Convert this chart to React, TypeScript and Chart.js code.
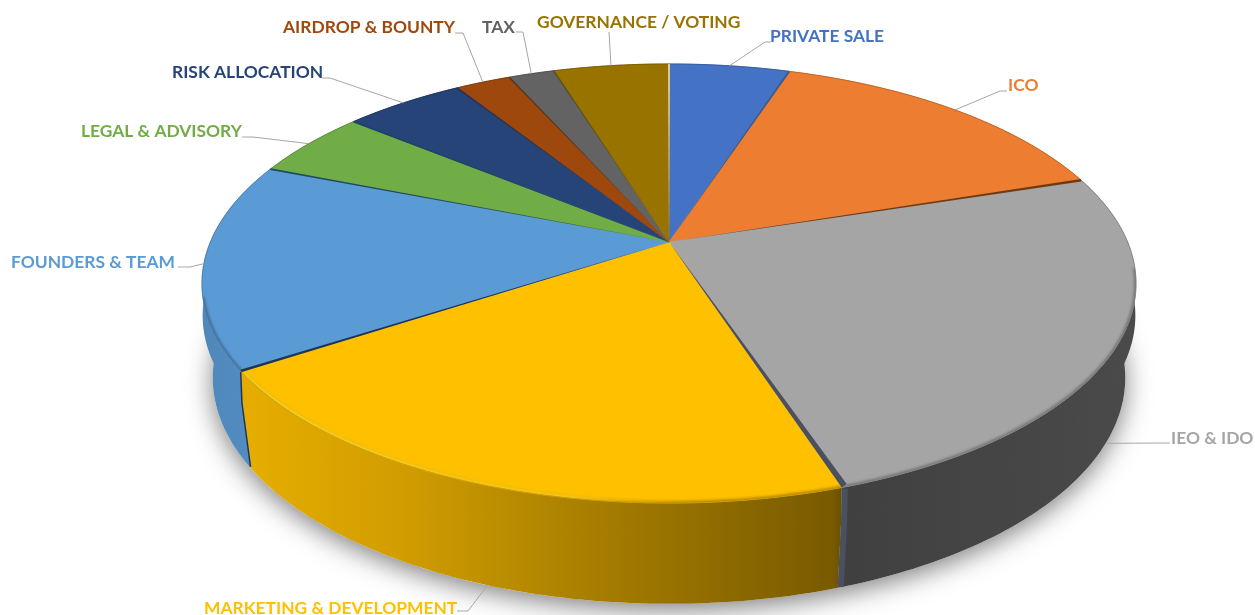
import React, { useEffect, useRef } from "react";
import { Chart, registerables } from "chart.js";

Chart.register(...registerables);

// Token allocation, in percent of supply
const categories = [
  "PRIVATE SALE",
  "ICO",
  "IEO & IDO",
  "MARKETING & DEVELOPMENT",
  "FOUNDERS & TEAM",
  "LEGAL & ADVISORY",
  "RISK ALLOCATION",
  "AIRDROP & BOUNTY",
  "TAX",
  "GOVERNANCE / VOTING",
];
const allocationShares = [5, 15, 25, 20.8, 15.2, 5, 5, 2.3, 1.9, 4.8];
const sliceColors = [
  "#4472c4", "#ed7d31", "#a5a5a5", "#ffc000", "#5b9bd5",
  "#70ad47", "#264478", "#9e480e", "#636363", "#997300",
];
// Colour of the thin seam that closes each slice, and its width at the rim
const seamColors = [
  "#3c5a8c", "#6e3a12", "#4a5060", "#1d3557", "#1e4a6a",
  "#1c4468", "#2c2f52", "#54351c", "#5a5220", "#d9d0a8",
];
const seamWidths = [2, 2.5, 6, 2.5, 2, 2, 1.5, 1.5, 1.5, 2];

// Callout placement per slice: text centre-left, elbow points, and which rim the line lands on
const calloutTextX = [770, 1008, 1171, 204, 11, 81, 172, 283, 482, 537];
const calloutTextY = [36, 85, 438, 608, 262, 131, 72, 27, 27, 22];
const calloutElbows: number[][][] = [
  [[771, 42], [765, 42]],
  [[1007, 91], [1000, 91]],
  [[1170, 443]],
  [[457, 611], [468, 611]],
  [[178, 267], [190, 267]],
  [[242, 137], [253, 137]],
  [[322, 78], [330, 78]],
  [[455, 33], [463, 33]],
  [[516, 32], [523, 32]],
  [[609, 32]],
];
const calloutOnBaseRim = [false, false, true, true, false, false, false, false, false, false];

// Perspective disc: the hub sits above the ellipse centre because the far edge recedes
const HUB_X = 669;
const HUB_Y = 242;
const RADIUS_X = 458.6;
const RADIUS_Y = 211.7;
const RECEDE = 0.189;
const BASE_X = 669;
const BASE_Y = 335;
const BASE_SCALE_X = 0.977;
const BASE_SCALE_Y = 1.03;
// A ring part-way down the wall keeps the silhouette full at the sides
const WAIST_DROP = 32;
const WAIST_SCALE_X = 0.997;
const STEP = Math.PI / 180;

// Side-wall brightness by screen x
const wallLight: number[][] = [
  [205, 0.88], [250, 0.9], [400, 0.82], [600, 0.65], [833, 0.47], [845, 0.39], [1136, 0.45],
];

const onTop = (a: number) => {
  const w = 1 - RECEDE * Math.sin(a);
  return [HUB_X + (RADIUS_X * Math.cos(a)) / w, HUB_Y + (RADIUS_Y * Math.sin(a)) / w];
};
const onWaist = (a: number) => {
  const w = 1 - RECEDE * Math.sin(a);
  return [HUB_X + (WAIST_SCALE_X * RADIUS_X * Math.cos(a)) / w, HUB_Y + WAIST_DROP + (RADIUS_Y * Math.sin(a)) / w];
};
const onBase = (a: number) => {
  const w = 1 - RECEDE * Math.sin(a);
  return [
    BASE_X + (BASE_SCALE_X * RADIUS_X * Math.cos(a)) / w,
    BASE_Y + (BASE_SCALE_Y * RADIUS_Y * Math.sin(a)) / w,
  ];
};
const arcPoints = (from: number, to: number, on: (a: number) => number[]) => {
  const pts: number[][] = [];
  const n = Math.max(2, Math.ceil((to - from) / STEP));
  for (let i = 0; i <= n; i++) pts.push(on(from + ((to - from) * i) / n));
  return pts;
};
const tracePath = (ctx: CanvasRenderingContext2D, pts: number[][], close = false) => {
  ctx.beginPath();
  pts.forEach((p, i) => (i ? ctx.lineTo(p[0], p[1]) : ctx.moveTo(p[0], p[1])));
  if (close) ctx.closePath();
};
const shade = (hex: string, f: number) => {
  const n = parseInt(hex.slice(1), 16);
  const c = [(n >> 16) & 255, (n >> 8) & 255, n & 255].map((v) => Math.round(v * f));
  return `rgb(${c[0]},${c[1]},${c[2]})`;
};

const tiltedPie = {
  id: "tiltedPie",
  beforeDatasetDraw(chart: any, args: any) {
    const ctx: CanvasRenderingContext2D = chart.ctx;
    const arcs = args.meta.data as any[];
    const colors = chart.data.datasets[0].backgroundColor as string[];
    const spans = arcs.map((el) => [el.startAngle, el.endAngle]);

    // Soft contact shadow under the base
    ctx.save();
    ctx.shadowColor = "rgba(0,0,0,0.5)";
    ctx.shadowBlur = 26;
    ctx.shadowOffsetY = 6;
    ctx.fillStyle = "#fff";
    tracePath(ctx, arcPoints(0, Math.PI * 2, onBase), true);
    ctx.fill();
    ctx.restore();

    // Side walls, far slices first; the waist is stroked over so no hairline shows between bands
    const order = spans
      .map((s, i) => i)
      .sort((p, q) => Math.sin((spans[p][0] + spans[p][1]) / 2) - Math.sin((spans[q][0] + spans[q][1]) / 2));
    order.forEach((i) => {
      const [from, to] = spans[i];
      const g = ctx.createLinearGradient(205, 0, 1136, 0);
      wallLight.forEach(([x, f]) => g.addColorStop((x - 205) / 931, shade(colors[i], f)));
      ctx.fillStyle = g;
      ctx.strokeStyle = g;
      tracePath(ctx, [...arcPoints(from, to, onTop), ...arcPoints(from, to, onWaist).reverse()], true);
      ctx.fill();
      tracePath(ctx, [...arcPoints(from, to, onWaist), ...arcPoints(from, to, onBase).reverse()], true);
      ctx.fill();
      ctx.lineWidth = 1.5;
      tracePath(ctx, arcPoints(from, to, onWaist));
      ctx.stroke();
    });

    // Seams running down the wall where two front slices meet
    spans.forEach(([, to], i) => {
      if (Math.sin(to) < 0.2) return;
      const t = onTop(to);
      const m = onWaist(to);
      const b = onBase(to);
      ctx.strokeStyle = seamColors[i];
      ctx.lineWidth = seamWidths[i] > 4 ? seamWidths[i] : 1.5;
      const shift = seamWidths[i] > 4 ? 3 : 0;
      tracePath(ctx, [[t[0] + shift, t[1] + 1], [m[0] + shift, m[1]], [b[0] + shift, b[1] - 1]]);
      ctx.stroke();
    });

    // Top face
    spans.forEach(([from, to], i) => {
      ctx.fillStyle = colors[i];
      tracePath(ctx, [[HUB_X, HUB_Y], ...arcPoints(from, to, onTop)], true);
      ctx.fill();
      ctx.strokeStyle = colors[i];
      ctx.lineWidth = 0.6;
      ctx.stroke();
    });

    // Bevel along the near rim, kept inside the top face
    ctx.save();
    tracePath(ctx, arcPoints(0, Math.PI * 2, onTop), true);
    ctx.clip();
    spans.forEach(([from, to], i) => {
      const lo = Math.max(from, 0.12);
      const hi = Math.min(to, Math.PI - 0.25);
      if (hi <= lo) return;
      ctx.save();
      ctx.filter = "blur(1.4px)";
      ctx.lineWidth = 3;
      ctx.strokeStyle = shade(colors[i], 0.62);
      tracePath(ctx, arcPoints(lo, hi, onTop));
      ctx.stroke();
      ctx.restore();
      if (i === 3) {
        ctx.save();
        ctx.filter = "blur(0.8px)";
        const g = ctx.createLinearGradient(240, 0, 840, 0);
        g.addColorStop(0, "#ffdc2a");
        g.addColorStop(0.55, "#ffd21a");
        g.addColorStop(0.75, "rgba(255,200,10,0)");
        ctx.strokeStyle = g;
        ctx.lineWidth = 3;
        tracePath(ctx, arcPoints(lo, hi, onTop).map((p) => [p[0], p[1] - 1]));
        ctx.stroke();
        ctx.restore();
      }
    });
    ctx.restore();

    // Fine darker outline on the far rim
    spans.forEach(([from, to], i) => {
      ctx.strokeStyle = shade(colors[i], 0.78);
      ctx.lineWidth = 0.8;
      tracePath(ctx, arcPoints(from, to, onTop));
      ctx.stroke();
    });

    // Seams between slices on the top face, widening toward the rim
    spans.forEach(([, to], i) => {
      const p = onTop(to);
      const dx = p[0] - HUB_X;
      const dy = p[1] - HUB_Y;
      const len = Math.hypot(dx, dy);
      const nx = (-dy / len) * seamWidths[i];
      const ny = (dx / len) * seamWidths[i];
      const lean = seamWidths[i] > 4 ? 1 : 0.5;
      ctx.fillStyle = seamColors[i];
      tracePath(ctx, [
        [HUB_X, HUB_Y],
        [p[0] + nx * lean * (seamWidths[i] > 4 ? -1 : 1), p[1] + ny * lean * (seamWidths[i] > 4 ? -1 : 1)],
        [p[0] - nx * (seamWidths[i] > 4 ? 0 : 0.5), p[1] - ny * (seamWidths[i] > 4 ? 0 : 0.5)],
      ], true);
      ctx.fill();
    });

    // Callouts
    ctx.textBaseline = "middle";
    ctx.textAlign = "left";
    ctx.font = "bold 17.4px Lato";
    categories.forEach((name, i) => {
      const mid = (spans[i][0] + spans[i][1]) / 2;
      const anchor = (calloutOnBaseRim[i] ? onBase : onTop)(mid);
      ctx.strokeStyle = "#a6a6a6";
      ctx.lineWidth = 1;
      tracePath(ctx, [...calloutElbows[i], anchor]);
      ctx.stroke();
      ctx.fillStyle = sliceColors[i];
      ctx.fillText(name, calloutTextX[i], calloutTextY[i]);
    });
    return false;
  },
};

export default function App() {
  const ref = useRef<HTMLCanvasElement>(null);
  useEffect(() => {
    const chart = new Chart(ref.current!, {
      type: "pie",
      data: {
        labels: categories,
        datasets: [{ data: allocationShares, backgroundColor: sliceColors, borderWidth: 0 }],
      },
      options: {
        animation: false,
        responsive: false,
        plugins: { legend: { display: false }, tooltip: { enabled: false } },
      },
      plugins: [tiltedPie],
    });
    return () => chart.destroy();
  }, []);
  return (
    <div style={{ position: "fixed", left: 0, top: 0, width: 1255, height: 615, background: "#fff" }}>
      <canvas ref={ref} width={1255} height={615} style={{ display: "block" }} />
    </div>
  );
}
